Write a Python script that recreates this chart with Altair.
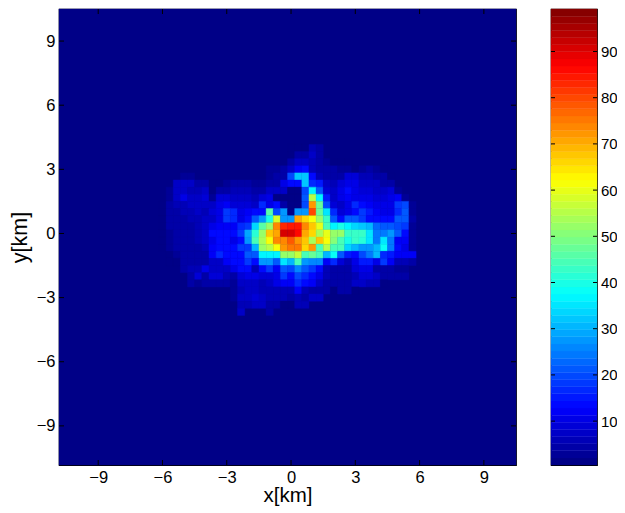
import altair as alt
import pandas as pd

FIRST_ROW = 19
LEFT_COL = 14
RIGHT_COL = 32
N = [1] * 18
LEFT = [
 N, N, N,
 [1]*15 + [3,3,4],
 [1,1,1,3,3,1,1,1,1,1,1,1,1,1,1,3,4,5],
 [1,1,7,7,7,4,4,2,2,3,5,5,5,3,3,4,5,10],
 [1,3,8,8,6,6,8,2,4,5,6,6,6,4,4,7,8,8],
 [1,3,7,11,7,7,9,3,9,9,8,8,7,6,9,10,2,2],
 [2,4,6,6,7,7,8,8,11,12,9,9,9,8,17,11,13,4],
 [2,4,5,6,6,7,6,9,11,19,17,11,12,13,14,46,20,28],
 [2,4,5,5,6,6,7,8,11,19,17,11,14,22,27,40,58,28],
 [2,4,4,5,5,6,7,11,12,12,12,16,19,34,46,52,73,83],
 [2,3,4,4,5,6,7,14,14,13,13,18,29,42,52,68,70,90],
 [2,3,5,5,5,6,7,11,13,13,11,14,27,44,53,62,73,73],
 [2,3,4,4,5,5,6,12,13,13,13,18,18,30,52,56,62,72],
 [1,2,3,4,4,5,5,12,17,13,13,14,21,21,37,37,37,52],
 [1,2,2,4,4,4,5,7,8,12,13,13,18,14,27,27,22,35],
 [1,1,1,4,6,6,10,8,8,8,11,14,14,6,14,18,12,22],
 [1,1,1,1,5,9,5,9,9,6,5,9,11,11,9,9,10,18],
 [1,1,1,1,4,3,4,5,5,5,3,7,8,8,6,7,11,12],
 [1]*10 + [3,6,7,7,6,6,6,6],
 [1]*10 + [3,7,8,9,8,6,6,6],
 [1]*11 + [6,6,7,7,5,5,2],
 [1]*11 + [7,1,1,1,5,1,1],
]
RIGHT = [
 [2,2,2,6,4] + [1]*13,
 [2,5,5,7,5] + [1]*13,
 [5,7,7,6,5,3,2,2,2] + [1]*9,
 [8,12,13,6,5,4,4,3,3,2,3,4,3,2,1,1,1,1],
 [20,32,32,13,6,5,4,5,9,9,6,6,5,4,2,1,1,1],
 [13,13,32,17,15,8,6,9,10,10,7,7,7,5,4,1,1,1],
 [2,2,20,37,22,9,7,11,14,10,9,9,8,7,9,3,1,1],
 [2,2,22,55,37,15,8,10,12,11,11,11,9,9,10,12,3,1],
 [2,2,20,72,47,20,9,8,10,17,13,12,11,10,11,18,20,3],
 [2,27,27,80,47,35,16,9,10,13,18,15,12,11,11,17,21,3],
 [28,70,66,62,52,43,22,13,22,22,18,14,13,13,13,21,21,4],
 [85,85,73,68,60,44,37,40,36,33,32,31,23,21,21,20,19,3],
 [90,86,70,66,54,60,52,52,43,43,43,35,24,25,28,21,14,3],
 [78,72,67,54,68,62,50,44,40,43,42,35,25,35,25,12,12,3],
 [76,76,66,72,45,55,45,45,33,30,27,28,30,38,24,13,11,3],
 [52,57,45,47,44,30,38,22,15,13,20,24,30,17,15,12,12,12],
 [30,45,28,26,26,12,17,9,6,11,15,15,11,18,12,6,6,4],
 [20,26,22,18,14,6,5,4,5,9,10,10,5,4,4,3,3,1],
 [13,20,16,13,10,6,5,5,5,6,9,9,8,5,5,4,4,1],
 [12,17,13,12,8,5,5,5,5,7,7,6,6,2,1,1,1,1],
 [6,12,6,5,5,5,2,5,5,2,1,1,1,1,1,1,1,1],
 [5,6,5,8,8] + [1]*13,
 [2,6,6] + [1]*15,
 N,
]
XTICKS = [-9, -6, -3, 0, 3, 6, 9]
CTICKS = [10, 20, 30, 40, 50, 60, 70, 80, 90]
CELL = 1 / 3
XMIN, XMAX = -10.83, 10.5
CMIN, CMAX = 0.5, 99.2
W, H = 457, 456
FONT = "Liberation Sans"


def jet(t):
    def ramp(c):
        return max(0.0, min(1.0, 1.5 - abs(4 * t - c)))
    r, g, b = ramp(3), ramp(2), ramp(1)
    return "#%02x%02x%02x" % (round(r * 255), round(g * 255), round(b * 255))


JET = [jet((i + 0.5) / 64) for i in range(64)]
color_scale = alt.Scale(type="quantize", domain=[CMIN, CMAX], range=JET)

records = []
for r, (lft, rgt) in enumerate(zip(LEFT, RIGHT)):
    row = FIRST_ROW + r
    for start, vals in ((LEFT_COL, lft), (RIGHT_COL, rgt)):
        for k, v in enumerate(vals):
            if v > 1:
                col = start + k
                records.append({
                    "x": XMIN + col * CELL, "x2": XMIN + (col + 1) * CELL,
                    "y": XMAX - row * CELL, "y2": XMAX - (row + 1) * CELL, "v": v})
cells = pd.DataFrame(records)
back = pd.DataFrame([{"x": XMIN, "x2": XMAX, "y": XMIN, "y2": XMAX, "v": 1}])

xs = alt.Scale(domain=[XMIN, XMAX], nice=False, zero=False)
ys = alt.Scale(domain=[XMIN, XMAX], nice=False, zero=False)
label_kw = dict(ticks=False, tickSize=0, domain=False, grid=False, values=XTICKS, format="d",
                labelFont=FONT, labelFontSize=16.5, labelColor="black",
                titleFont=FONT, titleFontWeight="normal", titleColor="black")
x_axis = alt.Axis(title="x[km]", labelPadding=4.5, titleBaseline="alphabetic", titleY=36, titleFontSize=20.5, labelAngle=0, **label_kw)
y_axis = alt.Axis(title="y[km]", labelPadding=4, titleBaseline="alphabetic", titleX=-33, titleFontSize=21.5, **label_kw)


def rects(df, **kw):
    return alt.Chart(df).mark_rect(strokeWidth=0.4, **kw).encode(
        x=alt.X("x:Q", scale=xs, axis=x_axis),
        x2="x2:Q",
        y=alt.Y("y:Q", scale=ys, axis=y_axis),
        y2="y2:Q",
        color=alt.Color("v:Q", scale=color_scale, legend=None),
        stroke=alt.Stroke("v:Q", scale=color_scale, legend=None),
    )


tick_df = pd.DataFrame({"t": XTICKS})
TL = 5
tick_x = alt.X("t:Q", scale=xs, axis=x_axis)
tick_y = alt.Y("t:Q", scale=ys, axis=y_axis)
ticks = [
    alt.Chart(tick_df).mark_rule(color="black", strokeWidth=1).encode(x=tick_x, y=alt.value(H), y2=alt.value(H - TL)),
    alt.Chart(tick_df).mark_rule(color="black", strokeWidth=1).encode(x=tick_x, y=alt.value(0), y2=alt.value(TL)),
    alt.Chart(tick_df).mark_rule(color="black", strokeWidth=1).encode(y=tick_y, x=alt.value(0), x2=alt.value(TL)),
    alt.Chart(tick_df).mark_rule(color="black", strokeWidth=1).encode(y=tick_y, x=alt.value(W), x2=alt.value(W - TL)),
]
main = alt.layer(rects(back), rects(cells), *ticks).properties(width=W, height=H)

# colour bar
step = (CMAX - CMIN) / 64
bands = pd.DataFrame({"lo": [CMIN + i * step for i in range(64)],
                      "hi": [CMIN + (i + 1) * step for i in range(64)]})
bands["v"] = (bands.lo + bands.hi) / 2
cs = alt.Scale(domain=[CMIN, CMAX], nice=False, zero=False)
BW = 46
c_axis = alt.Axis(
    title=None, orient="right", values=CTICKS, ticks=False, tickSize=0, domain=False, grid=False,
    labelFont=FONT, labelFontSize=15, labelColor="black", labelPadding=3.5)
bar = alt.Chart(bands).mark_rect(strokeWidth=0.4).encode(
    x=alt.value(0), x2=alt.value(BW),
    y=alt.Y("lo:Q", scale=cs, axis=c_axis),
    y2="hi:Q",
    color=alt.Color("v:Q", scale=color_scale, legend=None),
    stroke=alt.Stroke("v:Q", scale=color_scale, legend=None),
)
ct_df = pd.DataFrame({"t": CTICKS})
ct_y = alt.Y("t:Q", scale=cs, axis=c_axis)
cticks = [
    alt.Chart(ct_df).mark_rule(color="black", strokeWidth=1).encode(y=ct_y, x=alt.value(0), x2=alt.value(4)),
    alt.Chart(ct_df).mark_rule(color="black", strokeWidth=1).encode(y=ct_y, x=alt.value(BW), x2=alt.value(BW - 4)),
]
colorbar = alt.layer(bar, *cticks).properties(width=BW, height=H)

chart = alt.hconcat(main, colorbar, spacing=31).resolve_scale(color="independent", stroke="independent").properties(
    autosize=alt.AutoSizeParams(type="none"),
    padding={"left": 51, "top": 1, "right": 558, "bottom": 496}, background="white"
).configure_view(stroke="black", strokeWidth=1.2)
chart.save("out.html", embed_options={"renderer": "svg", "actions": False})
